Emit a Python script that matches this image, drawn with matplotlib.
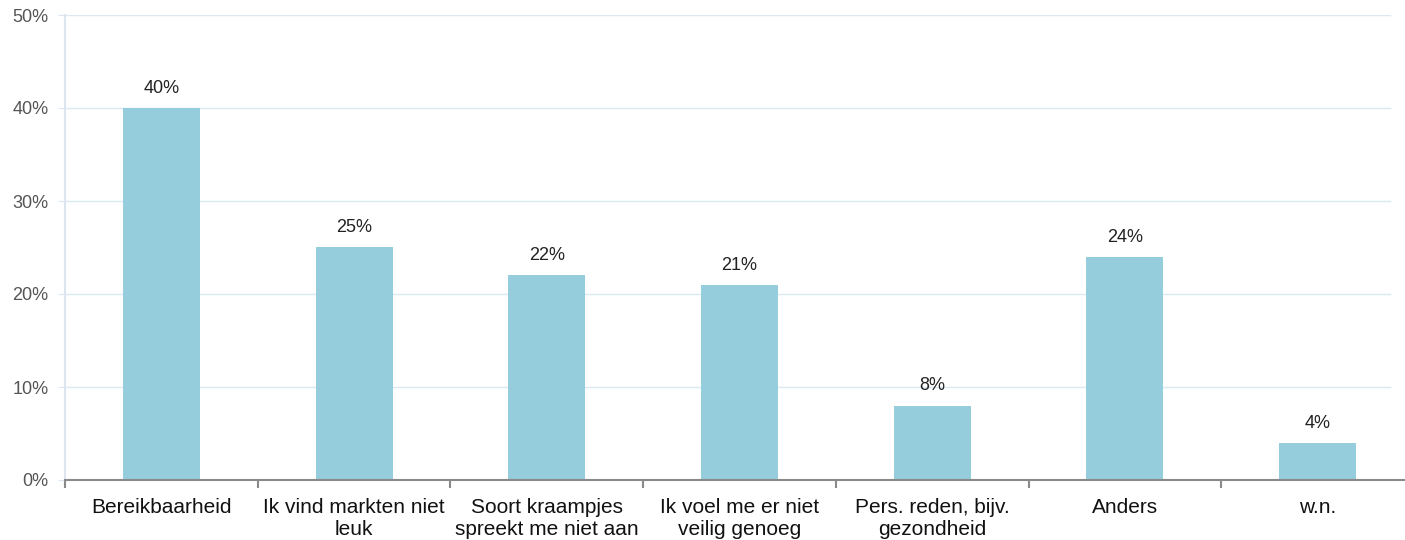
import matplotlib
matplotlib.use("Agg")
import matplotlib.pyplot as plt
import numpy as np

categories = ["Bereikbaarheid", "Ik vind markten niet\nleuk", "Soort kraampjes\nspreekt me niet aan",
              "Ik voel me er niet\nveilig genoeg", "Pers. reden, bijv.\ngezondheid", "Anders", "w.n."]
values = [40, 25, 22, 21, 8, 24, 4]
yticks = [0, 10, 20, 30, 40, 50]
ytick_labels = ["0%", "10%", "20%", "30%", "40%", "50%"]

plt.rcParams['font.family'] = ['Liberation Sans', 'DejaVu Sans']

W, H = 1405, 540
fig = plt.figure(figsize=(W / 100, H / 100), dpi=100)
left, right, top, bottom = 65, 1414, 15, 480
ax = fig.add_axes([left / W, (H - bottom) / H, (right - left) / W, (bottom - top) / H])

x = np.arange(len(categories))
ax.set_xlim(-0.5, len(categories) - 0.5)
ax.set_ylim(0, 50)

gx = (1390 - left) / (right - left)
for t in yticks[1:]:
    ax.axhline(t, xmin=0, xmax=gx, color="#dbe9f1", lw=1, zorder=0)

ax.bar(x, values, width=0.4, color="#95cddc", zorder=2)
for xi, v in zip(x, values):
    ax.text(xi, v + 1.2, f"{v}%", ha="center", va="bottom", fontsize=13, color="#222222")

for s in ["top", "right"]:
    ax.spines[s].set_visible(False)
ax.spines["left"].set_color("#dde6f0")
ax.spines["left"].set_linewidth(1.5)
ax.spines["bottom"].set_color("#8a8a8a")
ax.spines["bottom"].set_linewidth(1.5)

ax.set_yticks(yticks)
ax.set_yticklabels(ytick_labels, fontsize=13, color="#555555")
ax.tick_params(axis="y", length=5, color="#dde6f0", pad=7)

ax.set_xticks(x)
ax.set_xticklabels(categories, fontsize=15, color="#111111", linespacing=1.2)
ax.tick_params(axis="x", length=0, pad=13)
ax.set_xticks(np.arange(len(categories) + 1) - 0.5, minor=True)
ax.tick_params(axis="x", which="minor", length=6, color="#8a8a8a", width=1.5)

fig.savefig("out.png", dpi=100)
